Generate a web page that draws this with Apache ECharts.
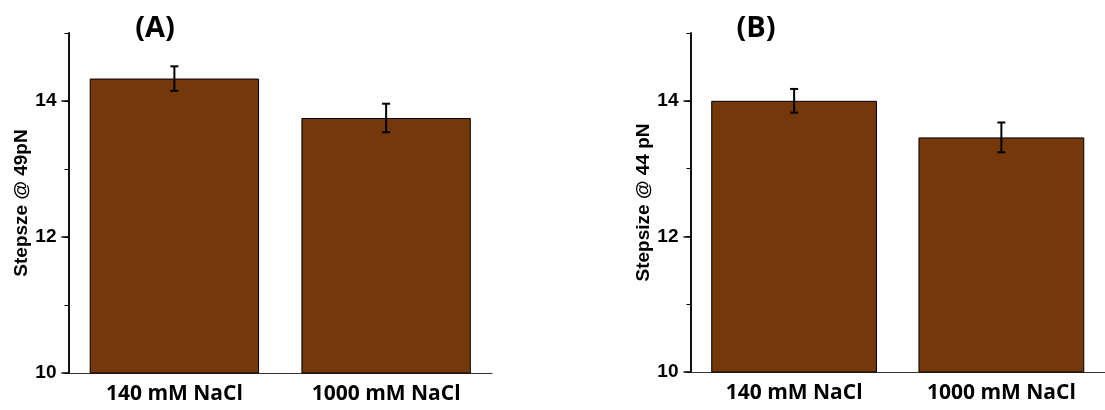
<!DOCTYPE html>
<html>
<head>
<meta charset="utf-8">
<script src="https://cdn.jsdelivr.net/npm/echarts@6/dist/echarts.min.js"></script>
<style>
  html, body { margin: 0; padding: 0; background: #fff; }
  #main { width: 1105px; height: 410px; }
</style>
</head>
<body>
<div id="main"></div>
<script>
var categories = ["140 mM NaCl", "1000 mM NaCl"];
var meanA = [14.33, 13.75];
var errA = [0.18, 0.21];
var meanB = [14.0, 13.46];
var errB = [0.175, 0.22];
var yTicks = [10, 12, 14];

var barColor = "#75380b";
var tickFont = "Liberation Sans";
var catFont = "Open Sans";

function errData(mean, err) {
    let out = [];
    for (let i = 0; i < mean.length; i++) {
        out.push([i, mean[i] - err[i], mean[i] + err[i]]);
    }
    return out;
}

function errRender(params, api) {
    let x = api.value(0);
    let top = api.coord([x, api.value(2)]);
    let bot = api.coord([x, api.value(1)]);
    let w = 4;
    let st = { stroke: "#000", lineWidth: 2 };
    return {
        type: "group",
        children: [
            { type: "line", shape: { x1: top[0], y1: top[1], x2: bot[0], y2: bot[1] }, style: st },
            { type: "line", shape: { x1: top[0] - w, y1: top[1], x2: top[0] + w, y2: top[1] }, style: st },
            { type: "line", shape: { x1: bot[0] - w, y1: bot[1], x2: bot[0] + w, y2: bot[1] }, style: st }
        ]
    };
}

function xAxes(grid) {
    return [
        {
            type: "category", gridIndex: grid, data: categories,
            axisLine: { lineStyle: { color: "#333", width: 1 } },
            axisTick: { alignWithLabel: true, length: 5, lineStyle: { color: "#000", width: 1.5 } },
            axisLabel: { color: "#000", fontFamily: catFont, fontWeight: "bold", fontSize: 21, margin: 11 }
        },
        {
            type: "category", gridIndex: grid, data: categories, position: "bottom",
            axisLine: { show: false },
            axisTick: { length: 3, lineStyle: { color: "#000", width: 1 } },
            axisLabel: { show: false }
        }
    ];
}

function yAxes(grid, name) {
    return [
        {
            type: "value", gridIndex: grid, min: 10, max: 15, interval: 2,
            name: name, nameLocation: "middle", nameGap: 35,
            nameTextStyle: { color: "#000", fontFamily: tickFont, fontWeight: "bold", fontSize: 19 },
            axisLine: { show: true, lineStyle: { color: "#111", width: 2 } },
            axisTick: { show: true, length: 7, lineStyle: { color: "#000", width: 1.5 } },
            axisLabel: {
                color: "#000", fontFamily: tickFont, fontWeight: "bold", fontSize: 19, margin: 12,
                showMaxLabel: false,
                formatter: function (v) { return yTicks.indexOf(v) >= 0 ? String(v) : ""; }
            },
            splitLine: { show: false }
        },
        {
            type: "value", gridIndex: grid, min: 10, max: 15, interval: 1, position: "left",
            axisLine: { show: false },
            axisTick: { show: true, length: 4, lineStyle: { color: "#000", width: 1 } },
            axisLabel: { show: false },
            splitLine: { show: false }
        }
    ];
}

var chart = echarts.init(document.getElementById("main"), null, { renderer: "canvas" });
var option = {
    animation: false,
    backgroundColor: "#fff",
    grid: [
        { left: 68.5, top: 33, width: 423.5, height: 340 },
        { left: 690.5, top: 33, width: 423, height: 339 }
    ],
    xAxis: xAxes(0).concat(xAxes(1)),
    yAxis: yAxes(0, "Stepsze @ 49pN").concat(yAxes(1, "Stepsize @ 44 pN")),
    graphic: [
        { type: "text", x: 155, y: 29, style: { text: "(A)", font: 'bold 29px "Open Sans"', fill: "#000", textAlign: "center", textVerticalAlign: "middle" } },
        { type: "text", x: 756, y: 29, style: { text: "(B)", font: 'bold 29px "Open Sans"', fill: "#000", textAlign: "center", textVerticalAlign: "middle" } }
    ],
    series: [
        {
            type: "bar", xAxisIndex: 0, yAxisIndex: 0, data: meanA, barCategoryGap: "20%",
            itemStyle: { color: barColor, borderColor: "#000", borderWidth: 1 }
        },
        {
            type: "custom", xAxisIndex: 0, yAxisIndex: 0, data: errData(meanA, errA),
            encode: { x: 0, y: [1, 2] }, renderItem: errRender, z: 10
        },
        {
            type: "bar", xAxisIndex: 2, yAxisIndex: 2, data: meanB, barCategoryGap: "20%",
            itemStyle: { color: barColor, borderColor: "#000", borderWidth: 1 }
        },
        {
            type: "custom", xAxisIndex: 2, yAxisIndex: 2, data: errData(meanB, errB),
            encode: { x: 0, y: [1, 2] }, renderItem: errRender, z: 10
        }
    ]
};
chart.setOption(option);
</script>
</body>
</html>
